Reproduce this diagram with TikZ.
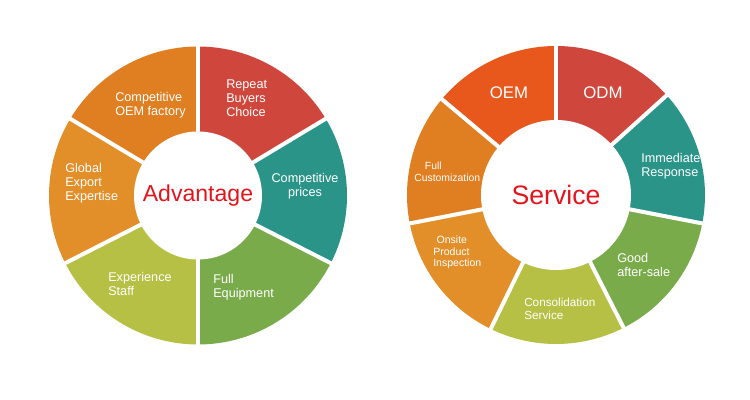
\documentclass[tikz,border=0pt]{standalone}
\usepackage{fontspec}
\setmainfont{Liberation Sans}

\definecolor{arancio}{HTML}{E07E22}
\definecolor{arancioch}{HTML}{E28F2A}
\definecolor{rosso}{HTML}{CF473C}
\definecolor{rossoar}{HTML}{E8581C}
\definecolor{petrolio}{HTML}{2A9488}
\definecolor{verde}{HTML}{79AB4A}
\definecolor{lime}{HTML}{B5C045}
\definecolor{titolo}{HTML}{E3141C}

\begin{document}
\begin{tikzpicture}[
    x=0.75pt, y=0.75pt,
    lab/.style={text=white, inner sep=0pt, align=left, font=\fontsize{9.5}{10.5}\selectfont},
    gap/.style={white, line width=3pt},
    tit/.style={text=titolo, inner sep=0pt},
  ]

  % ---- cornice ---------------------------------------------------------------
  \useasboundingbox (0,0) rectangle (750,400);
  \fill[white] (0,0) rectangle (750,400);

  % ---- Advantage: centro (198,204.5), R=149, r=64 ----------------------------
  \coordinate (adv) at (198,204.5);
  \fill[arancio]   (adv) -- ++(90:149)  arc[start angle=90,  end angle=149, radius=149] -- cycle;
  \fill[arancioch] (adv) -- ++(149:149) arc[start angle=149, end angle=207, radius=149] -- cycle;
  \fill[lime]      (adv) -- ++(207:149) arc[start angle=207, end angle=270, radius=149] -- cycle;
  \fill[verde]     (adv) -- ++(270:149) arc[start angle=270, end angle=333, radius=149] -- cycle;
  \fill[petrolio]  (adv) -- ++(333:149) arc[start angle=333, end angle=391, radius=149] -- cycle;
  \fill[rosso]     (adv) -- ++(31:149)  arc[start angle=31,  end angle=90,  radius=149] -- cycle;
  \draw[gap] (adv) -- ++(90:152);  \draw[gap] (adv) -- ++(149:152);
  \draw[gap] (adv) -- ++(207:152); \draw[gap] (adv) -- ++(270:152);
  \draw[gap] (adv) -- ++(333:152); \draw[gap] (adv) -- ++(31:152);
  \fill[white] (adv) circle (64);
  \node[tit, font=\fontsize{17.3}{20}\selectfont] (advT) at (adv) {Advantage};

  \node[lab, anchor=west] (cof) at (115,295)   {Competitive\\OEM factory};
  \node[lab, anchor=west] (rbc) at (226,302)   {Repeat\\Buyers\\Choice};
  \node[lab, align=center] (cpr) at (305,213.5) {Competitive\\prices};
  \node[lab, anchor=west] (feq) at (213,112.5) {Full\\Equipment};
  \node[lab, anchor=west] (exs) at (108,116)   {Experience\\Staff};
  \node[lab, anchor=west] (gee) at (65,217)    {Global\\Export\\Expertise};

  % ---- Service: centro (556,205), R=149, r=75 -------------------------------
  \coordinate (srv) at (556,205);
  \fill[rossoar]   (srv) -- ++(90:149)  arc[start angle=90,  end angle=140, radius=149] -- cycle;
  \fill[arancio]   (srv) -- ++(140:149) arc[start angle=140, end angle=191, radius=149] -- cycle;
  \fill[arancioch] (srv) -- ++(191:149) arc[start angle=191, end angle=244, radius=149] -- cycle;
  \fill[lime]      (srv) -- ++(244:149) arc[start angle=244, end angle=297, radius=149] -- cycle;
  \fill[verde]     (srv) -- ++(297:149) arc[start angle=297, end angle=349, radius=149] -- cycle;
  \fill[petrolio]  (srv) -- ++(349:149) arc[start angle=349, end angle=402, radius=149] -- cycle;
  \fill[rosso]     (srv) -- ++(42:149)  arc[start angle=42,  end angle=90,  radius=149] -- cycle;
  \draw[gap] (srv) -- ++(90:152);  \draw[gap] (srv) -- ++(140:152);
  \draw[gap] (srv) -- ++(191:152); \draw[gap] (srv) -- ++(244:152);
  \draw[gap] (srv) -- ++(297:152); \draw[gap] (srv) -- ++(349:152);
  \draw[gap] (srv) -- ++(42:152);
  \fill[white] (srv) circle (75);
  \node[tit, font=\fontsize{20}{24}\selectfont] (srvT) at (srv) {Service};

  \node[lab, font=\fontsize{12.6}{14}\selectfont] (oem) at (509,307) {OEM};
  \node[lab, font=\fontsize{12.6}{14}\selectfont] (odm) at (603,307) {ODM};
  \node[lab, anchor=west] (imr) at (641,233.5) {Immediate\\Response};
  \node[lab, anchor=west] (gas) at (617,135.5) {Good\\after-sale};
  \node[lab, anchor=west, font=\fontsize{8.8}{9.4}\selectfont] (cns) at (524,91)
    {Consolidation\\Service};
  \node[lab, anchor=west, font=\fontsize{7.9}{8.8}\selectfont] (opi) at (433,147.5)
    {\hspace*{2.5pt}Onsite\\Product\\Inspection};
  \node[lab, anchor=west, font=\fontsize{7.8}{8.8}\selectfont] (fcu) at (414,228)
    {\hspace*{8pt}Full\\Customization};

\end{tikzpicture}
\end{document}
